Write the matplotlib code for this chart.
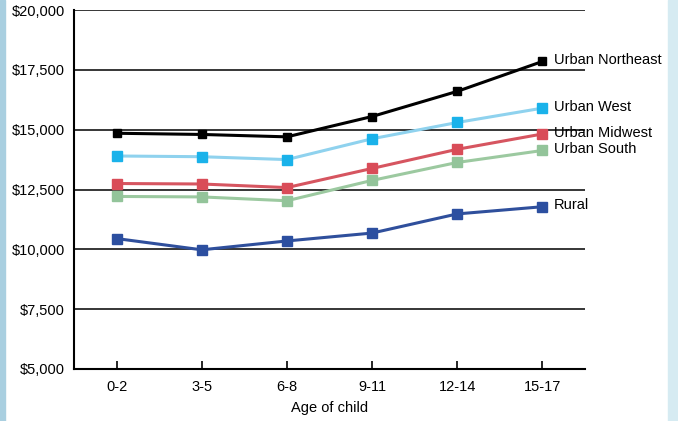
import matplotlib
matplotlib.use("Agg")
import matplotlib.pyplot as plt
from matplotlib.patches import Rectangle

plt.rcParams['font.family'] = ['Liberation Sans', 'DejaVu Sans']

ages = ["0-2", "3-5", "6-8", "9-11", "12-14", "15-17"]
urban_northeast = [14850, 14800, 14700, 15550, 16600, 17850]
urban_west = [13900, 13870, 13750, 14620, 15300, 15900]
urban_midwest = [12750, 12730, 12580, 13380, 14180, 14820]
urban_south = [12210, 12190, 12030, 12880, 13630, 14130]
rural = [10450, 9980, 10350, 10680, 11480, 11780]

series = [
    ("Urban Northeast", urban_northeast, "#000000", "#000000", 5.5),
    ("Urban West", urban_west, "#8fd2ee", "#1ab2ea", 6.5),
    ("Urban Midwest", urban_midwest, "#d65560", "#d94c58", 6.5),
    ("Urban South", urban_south, "#9cc9a0", "#93c49a", 6.5),
    ("Rural", rural, "#2f4f9c", "#2c4fa0", 7),
]
yticks = [5000, 7500, 10000, 12500, 15000, 17500, 20000]
ytick_labels = ["$5,000", "$7,500", "$10,000", "$12,500", "$15,000", "$17,500", "$20,000"]

fig = plt.figure(figsize=(6.78, 4.21), dpi=100)
fig.patch.set_facecolor("white")
# light blue frame edges
fig.add_artist(Rectangle((0, 0), 5/678, 1, transform=fig.transFigure, color="#a9cfe0", zorder=0))
fig.add_artist(Rectangle((668/678, 0), 10/678, 1, transform=fig.transFigure, color="#d6ebf2", zorder=0))

ax = fig.add_axes([74/678, 1 - 369/421, (585 - 74)/678, (369 - 10)/421])
x = list(range(len(ages)))
for name, vals, lc, mc, ms in series:
    ax.plot(x, vals, color=lc, lw=2.2, zorder=3)
    ax.plot(x, vals, ls="none", marker="s", ms=ms, color=mc, zorder=4)
    ax.annotate(name, xy=(x[-1], vals[-1]), xytext=(8, 1), textcoords="offset points",
                va="center", ha="left", fontsize=10.5, annotation_clip=False, zorder=2)

ax.set_xlim(-0.5, 5.5)
ax.set_ylim(5000, 20000)
ax.set_yticks(yticks)
ax.set_yticklabels(ytick_labels, fontsize=10.5)
ax.set_xticks(x)
ax.set_xticklabels(ages, fontsize=10.5)
ax.tick_params(axis="y", length=0, pad=6.5)
ax.tick_params(axis="x", direction="in", length=6, width=1.2, pad=8)
ax.grid(axis="y", color="black", lw=1.1, zorder=1)
ax.set_axisbelow(True)
for s in ["top", "right"]:
    ax.spines[s].set_visible(False)
ax.spines["left"].set_linewidth(1.5)
ax.spines["bottom"].set_linewidth(1.5)
ax.set_xlabel("Age of child", fontsize=10.5, labelpad=5)

fig.savefig("out.png", dpi=100)
